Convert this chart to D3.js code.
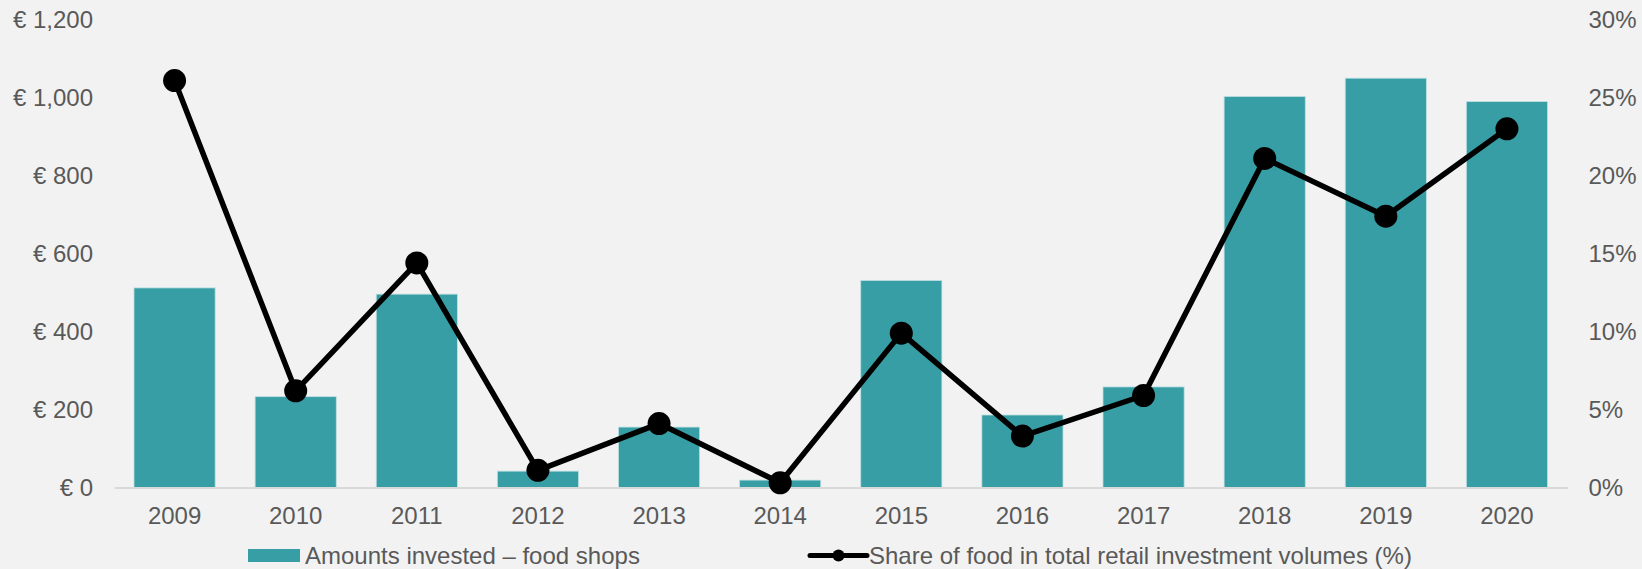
<!DOCTYPE html>
<html>
<head>
<meta charset="utf-8">
<script src="https://cdn.jsdelivr.net/npm/d3@7"></script>
<style>
  html, body { margin: 0; padding: 0; background: #f2f2f2; }
  svg { display: block; }
  text { font-family: "Liberation Sans", Arial, sans-serif; fill: #595959; }
</style>
</head>
<body>
<svg id="chart" width="1642" height="569"></svg>
<script>
// Food retail investment, 2009–2020
const years = ["2009", "2010", "2011", "2012", "2013", "2014", "2015", "2016", "2017", "2018", "2019", "2020"];
// Amounts invested in food shops (€ million)
const amounts = [512, 233, 496, 42, 155, 19, 531, 186, 258, 1003, 1050, 990];
// Share of food in total retail investment volumes (%)
const shares = [26.1, 6.2, 14.4, 1.1, 4.1, 0.3, 9.9, 3.3, 5.9, 21.1, 17.4, 23.0];
const leftTicks = [0, 200, 400, 600, 800, 1000, 1200];
const rightTicks = [0, 5, 10, 15, 20, 25, 30];
const barLabel = "Amounts invested – food shops";
const lineLabel = "Share of food in total retail investment volumes (%)";

const W = 1642, H = 569;
const plot = { left: 114, right: 1567.5, top: 19.7, bottom: 487.5 };
const teal = "#389ea5";
const fontSize = 24;

const svg = d3.select("#chart");
svg.append("rect").attr("width", W).attr("height", H).attr("fill", "#f2f2f2");

const x = d3.scaleBand().domain(years).range([plot.left, plot.right]).paddingInner(0.33).paddingOuter(0.165);
const yL = d3.scaleLinear().domain([0, 1200]).range([plot.bottom, plot.top]);
const yR = d3.scaleLinear().domain([0, 30]).range([plot.bottom, plot.top]);

// Left axis (euros)
const axL = svg.append("g")
  .attr("transform", `translate(${plot.left - 21},0)`)
  .call(d3.axisLeft(yL).tickValues(leftTicks).tickSize(0).tickPadding(0)
    .tickFormat(d => "€ " + d3.format(",")(d)));
axL.select(".domain").remove();
axL.selectAll("text").style("font-size", fontSize + "px").attr("fill", "#595959")
  .style("font-family", '"Liberation Sans", Arial, sans-serif');

// Right axis (percent)
const axR = svg.append("g")
  .attr("transform", `translate(${plot.right + 21},0)`)
  .call(d3.axisRight(yR).tickValues(rightTicks).tickSize(0).tickPadding(0)
    .tickFormat(d => d + "%"));
axR.select(".domain").remove();
axR.selectAll("text").style("font-size", fontSize + "px").attr("fill", "#595959")
  .style("font-family", '"Liberation Sans", Arial, sans-serif');

// Bars
svg.append("g").selectAll("rect")
  .data(years.map((y, i) => ({ year: y, value: amounts[i] })))
  .join("rect")
  .attr("x", d => x(d.year))
  .attr("width", x.bandwidth())
  .attr("y", d => yL(d.value))
  .attr("height", d => yL(0) - yL(d.value))
  .attr("fill", teal)
  .attr("stroke", "#bfe0e2")
  .attr("stroke-width", 0.8);

// Category axis with baseline
const axB = svg.append("g")
  .attr("transform", `translate(0,${plot.bottom})`)
  .call(d3.axisBottom(x).tickSize(0).tickPadding(19));
axB.select(".domain").attr("stroke", "#d9d9d9").attr("stroke-width", 2);
axB.selectAll("text").style("font-size", fontSize + "px").attr("fill", "#595959")
  .style("font-family", '"Liberation Sans", Arial, sans-serif');

// Share line with markers
const pts = years.map((y, i) => ({ year: y, value: shares[i] }));
const cx = d => x(d.year) + x.bandwidth() / 2;
svg.append("path")
  .datum(pts)
  .attr("fill", "none")
  .attr("stroke", "#000")
  .attr("stroke-width", 5.5)
  .attr("stroke-linejoin", "round")
  .attr("d", d3.line().x(cx).y(d => yR(d.value)));
svg.append("g").selectAll("circle")
  .data(pts)
  .join("circle")
  .attr("cx", cx)
  .attr("cy", d => yR(d.value))
  .attr("r", 11.5)
  .attr("fill", "#000");

// Legend
const legY = 555.5;
const leg = svg.append("g");
leg.append("rect").attr("x", 248).attr("y", legY - 6.5).attr("width", 52).attr("height", 13).attr("fill", teal);
leg.append("text").attr("x", 305).attr("y", legY).attr("dy", "0.35em")
  .style("font-size", fontSize + "px").text(barLabel);
leg.append("line").attr("x1", 810).attr("x2", 867).attr("y1", legY).attr("y2", legY)
  .attr("stroke", "#000").attr("stroke-width", 5).attr("stroke-linecap", "round");
leg.append("circle").attr("cx", 838.5).attr("cy", legY).attr("r", 6).attr("fill", "#000");
leg.append("text").attr("x", 869).attr("y", legY).attr("dy", "0.35em")
  .style("font-size", fontSize + "px").text(lineLabel);
</script>
</body>
</html>
